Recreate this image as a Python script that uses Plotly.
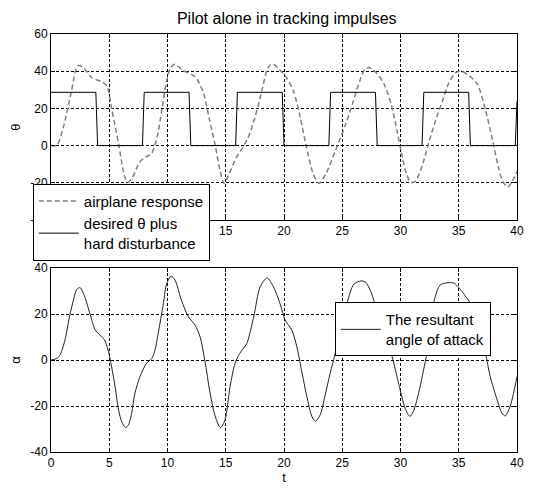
import plotly.graph_objects as go

# ---- data ----
sq_t = [0, 3.85, 4.0, 7.85, 8.0, 11.85, 12.0, 15.85, 16.0, 19.85, 20.0,
        23.85, 24.0, 27.85, 28.0, 31.85, 32.0, 35.85, 36.0, 39.85, 40.0]
sq_v = [28.65, 28.65, 0, 0, 28.65, 28.65, 0, 0, 28.65, 28.65, 0,
        0, 28.65, 28.65, 0, 0, 28.65, 28.65, 0, 0, 24]

th_t = [0, 0.5, 1.05, 1.75, 2.3, 2.8, 3.5, 4.3, 4.8, 5.2, 5.8, 6.3, 6.6, 7.0, 7.6,
        8.1, 8.6, 9.1, 9.5, 9.9, 10.2, 10.6, 11.3, 12.2, 12.6, 13.1, 13.6, 14.1,
        14.5, 14.85, 15.3, 15.9, 16.4, 16.9, 17.5, 18.1, 18.6, 19.0, 19.6, 20.2,
        20.8, 21.4, 21.9, 22.5, 23.0, 23.6, 24.4, 25.3, 25.9, 26.4, 26.95, 27.3,
        27.9, 28.6, 29.2, 29.7, 30.1, 30.5, 30.9, 31.3, 31.9, 32.4, 33.0, 33.6,
        34.1, 34.7, 35.2, 35.9, 36.6, 37.3, 37.9, 38.4, 38.8, 39.2, 39.6, 40.0]
th_v = [0, 0.2, 9.7, 29, 43, 41.8, 36.5, 34.5, 32, 20, 1, -16, -19.8, -17, -9,
        -6.2, -4.5, 4.4, 18.6, 34, 41, 43.8, 40.5, 37.8, 35, 28, 14, 0,
        -13, -20.3, -15, -6.5, -1.5, 4, 15, 29.5, 41.5, 44, 41, 36.6,
        29.5, 15, 0, -15, -20.3, -15, -3, 11.6, 23, 33, 41, 42,
        39.3, 33, 22.3, 8, -4.5, -15, -19.8, -19, -10, 1, 13.4, 24,
        33, 39, 40, 37.5, 33, 19, 3, -11.5, -19.5, -22.3, -19, -14]

al_t = [0, 0.5, 0.8, 1.2, 1.63, 1.95, 2.2, 2.5, 2.9, 3.35, 3.8, 4.2, 4.6, 4.9,
        5.2, 5.5, 5.8, 6.07, 6.4, 6.65, 6.93, 7.2, 7.64, 8.2, 8.65, 8.93, 9.2,
        9.65, 9.93, 10.3, 10.65, 11.2, 11.8, 12.37, 12.8, 13.2, 13.66, 14.1,
        14.55, 14.94, 15.37, 15.8, 16.2, 16.8, 17.4, 17.95, 18.55, 19.1, 19.7,
        20.1, 20.67, 21.1, 21.5, 21.96, 22.4, 22.7, 23.1, 23.5, 23.96, 24.4,
        24.9, 25.4, 26.0, 26.6, 26.97, 27.4, 27.8, 28.3, 28.8, 29.2, 29.5,
        29.97, 30.4, 30.8, 31.1, 31.55, 31.98, 32.26, 32.6, 32.9, 33.4, 34.0,
        34.6, 35.0, 35.4, 36.0, 36.5, 37.0, 37.3, 37.7, 38.3, 38.7, 39.0,
        39.4, 39.7, 40.0]
al_v = [0, 0.7, 2.5, 8.7, 20, 26.5, 30.7, 31.5, 27.5, 20, 13, 10.9, 8.7, 4.3,
        -2.9, -11.6, -21.7, -26.8, -29.4, -28.2, -23, -14.5, -7.2, -1.4, 0.7, 4.3, 11.6,
        24.6, 33.3, 36.5, 34.7, 26, 18.8, 15.2, 10, 0, -14.5, -24.6,
        -29.4, -26, -11.6, -1.4, 2.9, 7.2, 18.8, 31.8, 35.7, 31.8, 23.9,
        17.4, 13, 5.8, -4.3, -15.9, -24.6, -26.6, -23.9, -15.9, -5.8, 2.9,
        14, 24.6, 33, 34.4, 34, 30.4, 24.6, 17, 10, 3, -2.9,
        -13, -21, -24.5, -22.4, -14.5, -4.3, 2.9, 15, 26, 32.6, 33.6,
        33.4, 31.5, 29, 24.6, 16, 8, 2.9, -7.2, -17.4, -23, -24.3,
        -20.3, -14.5, -7.2]

x_ticks = [0, 5, 10, 15, 20, 25, 30, 35, 40]
th_ticks = [-40, -20, 0, 20, 40, 60]
al_ticks = [-40, -20, 0, 20, 40]
x_labels = [str(v) for v in x_ticks]
th_labels = [str(v) for v in th_ticks]
al_labels = [str(v) for v in al_ticks]

FONT = "Liberation Sans, Arial, sans-serif"

fig = go.Figure()
fig.add_trace(go.Scatter(x=th_t, y=th_v, mode="lines", name="airplane response",
                         line=dict(color="#808080", width=1.5, dash="5px,3px", shape="spline", smoothing=0.8),
                         xaxis="x", yaxis="y", legend="legend"))
fig.add_trace(go.Scatter(x=sq_t, y=sq_v, mode="lines", name="desired θ plus<br>hard disturbance",
                         line=dict(color="black", width=1),
                         xaxis="x", yaxis="y", legend="legend"))
fig.add_trace(go.Scatter(x=al_t, y=al_v, mode="lines", name="The resultant<br>angle of attack",
                         line=dict(color="#222222", width=1, shape="spline", smoothing=0.8),
                         xaxis="x2", yaxis="y2", legend="legend2"))

axcommon = dict(showline=True, linecolor="black", linewidth=1, mirror="ticks",
                ticks="inside", ticklen=4, tickcolor="black", automargin=False,
                showgrid=True, gridcolor="black", gridwidth=1, griddash="3px,2px",
                zeroline=False, tickfont=dict(family=FONT, size=12, color="black"))

# page has an 8px body margin; figure is sized/offset to compensate
W, H = 531, 480
fig.update_layout(
    width=W, height=H,
    margin=dict(l=43, r=22, t=26, b=36, autoexpand=False),
    paper_bgcolor="white", plot_bgcolor="white",
    font=dict(family=FONT, size=12, color="black"),
    title=dict(text="Pilot alone in tracking impulses", x=0.525, xanchor="center",
               y=1 - 10 / H, yanchor="middle", yref="container",
               font=dict(family=FONT, size=16, color="black")),
    xaxis=dict(domain=[0, 1], range=[0, 40], tickvals=x_ticks, ticktext=x_labels, anchor="y", **axcommon),
    yaxis=dict(domain=[0.555, 1], range=[-40, 60], tickvals=th_ticks, ticktext=th_labels, anchor="x",
               title=dict(text="θ", standoff=8, font=dict(family=FONT, size=13)), **axcommon),
    xaxis2=dict(domain=[0, 1], range=[0, 40], tickvals=x_ticks, ticktext=x_labels, anchor="y2",
                title=dict(text="t", standoff=0, font=dict(family=FONT, size=13)), **axcommon),
    yaxis2=dict(domain=[0, 0.44], range=[-40, 40], tickvals=al_ticks, ticktext=al_labels, anchor="x2",
                title=dict(text="α", standoff=8, font=dict(family=FONT, size=13)), **axcommon),
    legend=dict(x=-0.039, y=0.642, xanchor="left", yanchor="top",
                bgcolor="white", bordercolor="black", borderwidth=1,
                font=dict(family=FONT, size=15, color="black"),
                tracegroupgap=0, itemwidth=40, valign="middle"),
    legend2=dict(x=0.609, y=0.358, xanchor="left", yanchor="top",
                 bgcolor="white", bordercolor="black", borderwidth=1,
                 font=dict(family=FONT, size=15, color="black"),
                 itemwidth=40, valign="middle"),
    showlegend=True,
)

fig.write_html("out.html")
